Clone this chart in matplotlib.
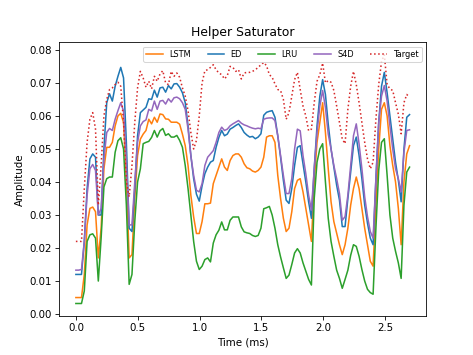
import numpy as np
import matplotlib
matplotlib.use("Agg")
import matplotlib.pyplot as plt

# 120 samples at 44.1 kHz, time in ms
fs_khz = 44.1
n_samples = 120

# amplitudes, in units of 1e-3
lstm = [5.0, 5.0, 5.0, 12, 27, 32, 32.4, 31, 17, 26,
        44, 50.5, 50.5, 52, 57, 60, 60.8, 58, 41, 17,
        18, 35, 48, 53, 54.5, 55.6, 59, 57.6, 59.6, 58.1,
        60.6, 60.4, 59.1, 59, 58.1, 58.1, 58.1, 57.5, 54.5, 51,
        45, 36, 29.4, 24.4, 24.4, 28, 33.4, 33.4, 33.6, 39.5,
        42, 44.5, 47, 44.5, 43.5, 46.5, 48, 48.5, 48.5, 47.5,
        45.5, 44.3, 44, 43.3, 43, 43.5, 44.5, 47.5, 53.6, 54,
        54, 52, 42, 35, 29, 25, 26, 31, 38, 40.5,
        41, 37, 32, 27, 22, 40, 52, 58, 64, 55,
        44, 34, 28, 24.5, 21, 18, 21, 26, 33, 38,
        41.5, 38, 32, 26, 21, 16, 14.5, 33, 50, 62,
        64, 60, 51, 45, 40, 32, 21, 40, 48.5, 51]

ed = [12.0, 12.0, 12.0, 22, 38, 47, 48.5, 47.5, 30, 30,
      50, 64, 66.7, 64.5, 69, 72, 74.7, 71.5, 52, 26,
      25, 38, 54, 61, 61.8, 62.6, 65.2, 65, 67.8, 65.7,
      68.5, 68.7, 67.2, 69.2, 68.2, 69.7, 69.8, 68.7, 67, 64,
      57, 48, 41, 36.3, 34.2, 38.8, 42.5, 44.5, 46, 46.5,
      50.5, 53.5, 55.6, 54, 54.5, 56, 56.5, 57.1, 57.6, 56.5,
      55, 54.2, 53.6, 53.8, 53.1, 53.6, 54.6, 60.2, 61.1, 61.4,
      61.6, 59.6, 54, 47.5, 40.5, 34.5, 33.5, 38, 45, 50.5,
      51, 45.5, 40, 34, 29, 44, 57, 66, 71, 66.5,
      57.5, 50, 44.5, 39, 34.5, 26.5, 26.5, 35, 43, 51,
      53.6, 48, 41, 33, 27.5, 23, 21, 41, 58, 69,
      73.2, 67, 60, 53, 46, 40.5, 34, 50, 59.6, 60.4]

lru = [3.2, 3.2, 3.2, 7.0, 22, 24, 24.3, 23, 10, 23,
       38.5, 41, 41.5, 41.5, 49, 52.5, 53.4, 50, 33, 9,
       12, 28, 40, 44, 51.6, 52, 52.3, 53.5, 55.6, 53.6,
       55.5, 56.2, 54.1, 54.6, 53.6, 53.6, 54.1, 52.6, 50.5, 45,
       38, 30, 22, 16, 13.5, 14.5, 16.5, 17, 15.8, 21.5,
       24, 25.4, 27.9, 25.5, 25.5, 28.4, 29.4, 29.4, 29.4, 26.4,
       24.9, 24.6, 24.4, 23.8, 23.5, 23.8, 26, 31.9, 32.2, 32.6,
       30, 26, 21, 17.3, 14, 10.8, 11.8, 15, 18.5, 19.8,
       18.5, 15.5, 13, 10.5, 8.8, 35, 46, 50, 51.6, 40,
       29, 22, 17.5, 13.3, 10.8, 7.8, 10.5, 13.3, 17.8, 21,
       20.5, 17.5, 13.5, 10, 7.5, 6.5, 6.0, 26, 43.5, 52,
       53.1, 42, 30, 23, 19, 15.5, 10.8, 33, 43, 44.5]

s4d = [13.3, 13.3, 13.5, 22, 36, 44, 45.3, 43.5, 30, 32,
       47, 55, 56.2, 55.6, 59, 61.6, 64, 61.5, 47, 27,
       27, 40, 52, 57, 58.3, 58.8, 62, 61.5, 64.5, 62,
       64.5, 64.7, 63.6, 65.2, 64.2, 65.5, 65.7, 65.2, 64, 62,
       56, 48, 42, 37.5, 37, 39.5, 45, 47.5, 48.5, 49.5,
       52, 55, 56.6, 55.6, 56, 57, 57.6, 58.1, 58.6, 57.8,
       57.3, 57, 56.6, 56.3, 56.1, 56.3, 56.1, 59, 59.3, 59.4,
       59.4, 58.6, 54, 48, 42, 36.5, 36.5, 41, 50, 56,
       55.5, 48, 42.5, 36, 31.5, 44, 55, 63, 67.7, 62.5,
       54.5, 50, 45, 41, 36.5, 28.4, 29.5, 36, 45, 54,
       57.6, 51.5, 44, 35.5, 29.5, 25, 23, 41, 58, 66,
       69.2, 64.5, 57, 50, 44, 41, 37, 49, 55.6, 55.8]

target = [22, 22, 22, 38, 52, 59, 61, 56, 33, 45,
          60, 65, 68, 68.5, 69.5, 70.2, 69, 58, 40, 35.5,
          45, 58, 68.5, 73.5, 71.5, 68.7, 70.5, 68.2, 72, 70.5,
          72.7, 73.7, 70, 69.5, 73.5, 72, 73, 71.7, 68.5, 66,
          61.6, 55, 50, 52.6, 60, 70, 73.7, 74, 74.7, 75.5,
          74, 73, 72.5, 71.2, 72.2, 75, 74.7, 73.5, 74, 71.2,
          73, 73.2, 73.2, 73.5, 74, 74.7, 75.5, 76.2, 75.2, 72.5,
          71.7, 69.7, 68, 67.7, 65, 59, 61, 66, 71, 73.2,
          68, 63, 60, 55.5, 56, 64, 70.5, 72.5, 76, 70,
          70.7, 70.2, 67.7, 63, 58, 53, 51.6, 62, 69, 73.5,
          69.5, 64, 58, 52, 47, 44, 46, 59, 69.5, 76.5,
          78.5, 69.5, 68.2, 67.7, 64, 60.5, 54.6, 64, 66.5, 65.7]

labels = ["LSTM", "ED", "LRU", "S4D"]
colors = ["tab:orange", "tab:blue", "tab:green", "tab:purple"]

t = np.arange(n_samples) / fs_khz

fig, ax = plt.subplots(figsize=(6.4, 4.8), dpi=74)

for series, lab, col in zip([lstm, ed, lru, s4d], labels, colors):
    ax.plot(t, np.array(series) / 1000, color=col, label=lab)
ax.plot(t, np.array(target) / 1000, color="tab:red", linestyle=":", label="Target")

ax.set_title("Helper Saturator")
ax.set_xlabel("Time (ms)")
ax.set_ylabel("Amplitude")
ax.legend(loc="upper right", ncol=5, fontsize=8)

fig.savefig("out.png", dpi=74)
